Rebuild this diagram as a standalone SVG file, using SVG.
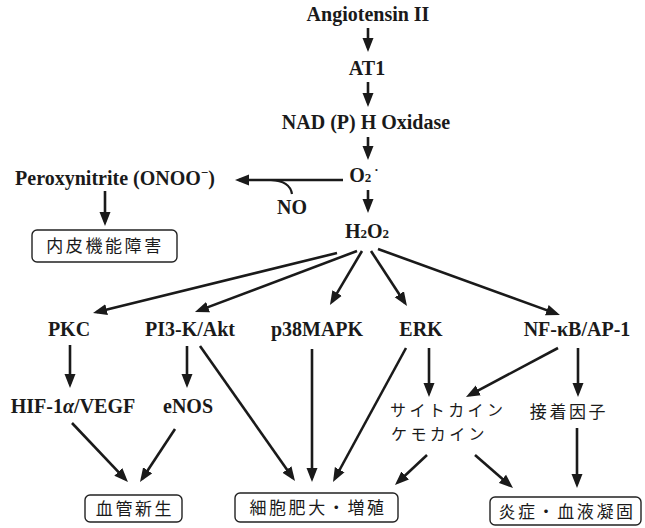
<svg xmlns="http://www.w3.org/2000/svg" width="645" height="528" viewBox="0 0 645 528">
<style>
.t{font-family:"Liberation Serif",Tinos,"Times New Roman","DejaVu Serif",serif;font-weight:bold;font-size:20px;fill:#1a1a1a;text-anchor:middle}
.j{font-family:"Noto Sans CJK JP","Noto Sans",sans-serif;font-size:17px;fill:#1a1a1a;letter-spacing:2.6px}
.k{font-size:16px;letter-spacing:3.4px}
.box{fill:#fff;stroke:#222;stroke-width:1.4}
.c{stroke:#1a1a1a;stroke-width:2.6;fill:none;marker-end:url(#ah)}
</style>
<defs>
<marker id="ah" markerUnits="userSpaceOnUse" markerWidth="14" markerHeight="12" refX="10" refY="5.5" orient="auto" viewBox="0 0 14 11">
<path d="M0,0 L14,5.5 L0,11 z" fill="#1a1a1a"/>
</marker>
</defs>
<rect width="645" height="528" fill="#fff"/>
<g id="angiotensin"><text class="t" x="368" y="21">Angiotensin II</text></g>
<g id="at1"><text class="t" x="367" y="75">AT1</text></g>
<g id="nadph"><text class="t" x="366" y="129">NAD (P) H Oxidase</text></g>
<g id="o2"><text class="t" x="364" y="182">O<tspan font-size="13">2</tspan><tspan font-size="13" dx="3" dy="-8">·</tspan></text></g>
<g id="no"><text class="t" x="292" y="214">NO</text></g>
<g id="peroxynitrite"><text class="t" x="115" y="185">Peroxynitrite (ONOO<tspan font-size="13" dy="-8">−</tspan><tspan dy="8">)</tspan></text></g>
<g id="endo"><rect class="box" x="32" y="230" width="145" height="32" rx="5"/><text class="j" x="105" y="252" text-anchor="middle">内皮機能障害</text></g>
<g id="h2o2"><text class="t" x="367" y="238">H<tspan font-size="13">2</tspan>O<tspan font-size="13">2</tspan></text></g>
<g id="pkc"><text class="t" x="69" y="336">PKC</text></g>
<g id="pi3k"><text class="t" x="190" y="336">PI3-K/Akt</text></g>
<g id="p38"><text class="t" x="317" y="336">p38MAPK</text></g>
<g id="erk"><text class="t" x="421" y="336">ERK</text></g>
<g id="nfkb"><text class="t" x="577" y="336">NF-κB/AP-1</text></g>
<g id="hif"><text class="t" x="73" y="413">HIF-1<tspan font-style="italic">α</tspan>/VEGF</text></g>
<g id="enos"><text class="t" x="188" y="413">eNOS</text></g>
<g id="cytokine"><text class="j k" x="390" y="416">サイトカイン</text><text class="j k" x="391" y="440">ケモカイン</text></g>
<g id="adhesion"><text class="j" x="569" y="418" text-anchor="middle">接着因子</text></g>
<g id="angiogenesis"><rect class="box" x="85" y="495" width="97" height="27" rx="5"/><text class="j" x="135" y="515" text-anchor="middle">血管新生</text></g>
<g id="hypertrophy"><rect class="box" x="235" y="493" width="163" height="29" rx="5"/><text class="j" x="318" y="514" text-anchor="middle">細胞肥大・増殖</text></g>
<g id="inflammation"><rect class="box" x="490" y="497" width="151" height="28" rx="5"/><text class="j" x="567" y="518" text-anchor="middle">炎症・血液凝固</text></g>
<g id="connectors">
<line class="c" x1="368" y1="28" x2="368" y2="48"/>
<line class="c" x1="368" y1="82" x2="368" y2="103"/>
<line class="c" x1="368" y1="137" x2="368" y2="156"/>
<line class="c" x1="368" y1="190" x2="368" y2="209"/>
<line class="c" x1="343" y1="180" x2="239" y2="180"/>
<path d="M271,180 Q290,181 292,194" stroke="#1a1a1a" stroke-width="2.2" fill="none"/>
<line class="c" x1="105" y1="191" x2="105" y2="222"/>
<line class="c" x1="337" y1="253" x2="96.9" y2="312"/>
<line class="c" x1="357" y1="251" x2="198.7" y2="310.6"/>
<line class="c" x1="362" y1="251" x2="332" y2="301.6"/>
<line class="c" x1="371" y1="251" x2="404.8" y2="302.7"/>
<line class="c" x1="378" y1="249" x2="556.2" y2="313.6"/>
<line class="c" x1="70" y1="345" x2="70" y2="384"/>
<line class="c" x1="187" y1="346" x2="187" y2="384"/>
<line class="c" x1="200" y1="346" x2="292.7" y2="477.7"/>
<line class="c" x1="312" y1="349" x2="312" y2="478"/>
<line class="c" x1="406" y1="348" x2="334.9" y2="478.5"/>
<line class="c" x1="429" y1="348" x2="429" y2="393"/>
<line class="c" x1="558" y1="348" x2="469.5" y2="395.1"/>
<line class="c" x1="578" y1="348" x2="578" y2="393"/>
<line class="c" x1="72" y1="423" x2="125.2" y2="479.1"/>
<line class="c" x1="175" y1="429" x2="142.2" y2="478.7"/>
<line class="c" x1="427" y1="455" x2="397.9" y2="482.3"/>
<line class="c" x1="475" y1="455" x2="510" y2="485.4"/>
<line class="c" x1="577" y1="428" x2="577" y2="484"/>
</g>
</svg>
